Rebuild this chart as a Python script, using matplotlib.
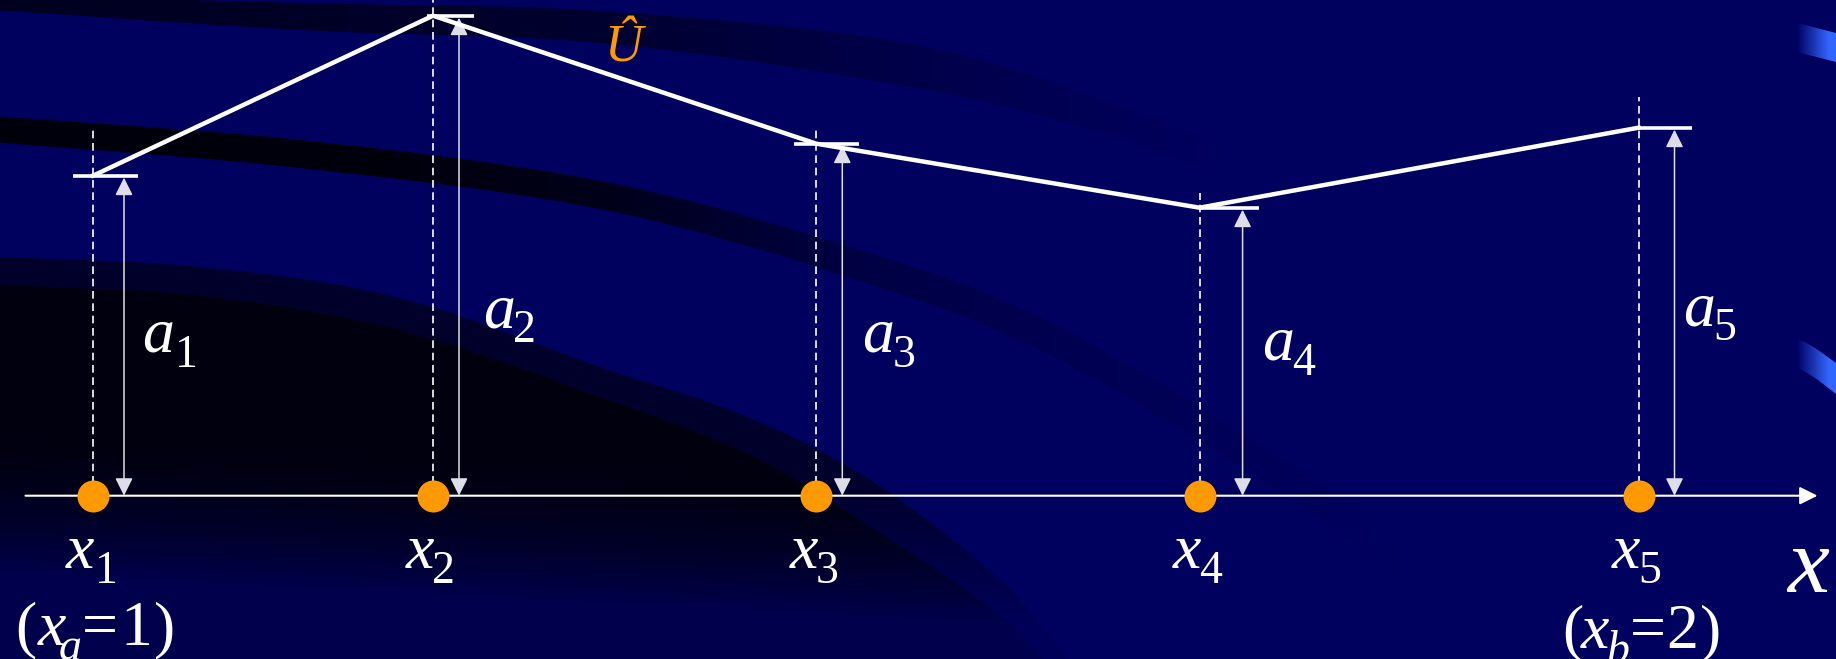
import numpy as np
import matplotlib
matplotlib.use("Agg")
import matplotlib.pyplot as plt
from matplotlib.patches import FancyArrowPatch
from matplotlib.transforms import IdentityTransform

# ---------------- data ----------------
x_a, x_b = 1, 2
node_x = [1.0, 1.22, 1.468, 1.716, 2.0]      # x_1 .. x_5
coef_a = [1.0, 1.5, 1.1, 0.9, 1.15]          # a_1 .. a_5 (height of U-hat at each node)
node_names = ["1", "2", "3", "4", "5"]
curve_name = "\u00db"                        # U with circumflex
axis_name = "x"

# ---------------- layout (pixels) ----------------
W, H, DPI = 1836, 659, 100
ORIGIN = (93.0, 495.7)        # pixel position of (x_a, 0)
PX_X = 1545.5                 # pixels per unit of x
PX_Y = 320.0                  # pixels per unit of U

NAVY = np.array([0.0, 0.0, 0.376])
ORANGE = "#ff9900"
ARROW_C = "#dedee8"
SERIF = "Liberation Serif"
MAIN, SUB = 46, 33

tick_left = [20, 6, 22, 0, 0]          # horizontal level marks around each node
tick_right = [45, 41, 43, 59, 53]
dash_over = [48, 20, 16, 15, 31]       # dashed guide overshoot above the level
arrow_dx = [31, 26, 26, 43, 36]        # double arrow offset from node
a_label_dx = [49, 50, 46, 63, 45]
a_label_base = [352, 327, 352, 360, 325]

fig = plt.figure(figsize=(W / DPI, H / DPI), dpi=DPI)
fig.patch.set_facecolor(NAVY)

# ---------------- background ----------------
def catmull(pts, n=60):
    p = np.asarray(pts, float)
    p = np.vstack([2 * p[0] - p[1], p, 2 * p[-1] - p[-2]])
    t = np.linspace(0, 1, n, endpoint=False)[:, None]
    segs = []
    for i in range(1, len(p) - 2):
        p0, p1, p2, p3 = p[i - 1], p[i], p[i + 1], p[i + 2]
        segs.append(0.5 * (2 * p1 + (-p0 + p2) * t + (2 * p0 - 5 * p1 + 4 * p2 - p3) * t ** 2
                           + (-p0 + 3 * p1 - 3 * p2 + p3) * t ** 3))
    segs.append(p[-2][None])
    return np.vstack(segs)

xs = np.arange(W) + 0.5
Y = (np.arange(H) + 0.5)[:, None]

def edge(pts):
    c = catmull(pts)
    return np.interp(xs, c[:, 0], c[:, 1])[None, :]

def below(e):
    return np.clip(Y - e + 0.5, 0, 1)

img = np.ones((H, W, 3)) * NAVY

def blend(alpha, color):
    global img
    a = alpha[..., None]
    img = img * (1 - a) + np.asarray(color)[None, None, :] * a

# upper thin band
upA = edge([(-20, -6), (300, 3), (600, 11), (900, 42), (1100, 98), (1300, 175)])
loA = edge([(-20, 9), (300, 30), (600, 43), (900, 85), (1100, 133), (1300, 205)])
fadeA = np.interp(xs, [0, 600, 900, 1250], [1.0, 0.75, 0.35, 0.0])[None, :]
blend(below(upA) * (1 - below(loA)) * fadeA, [0, 0, 0.12])

# middle band
upB = edge([(-20, 115), (300, 140), (600, 181), (850, 247), (1050, 322), (1300, 470), (1450, 580)])
loB = edge([(-20, 141), (300, 168), (600, 209), (850, 278), (1050, 355), (1300, 505), (1450, 620)])
fadeB = np.interp(xs, [0, 400, 600, 850, 1100, 1450], [1.0, 1.0, 0.85, 0.35, 0.15, 0.0])[None, :]
blend(below(upB) * (1 - below(loB)) * fadeB, [0, 0, 0.05])

# large dark sweep in the lower left
outC_pts = [(-20, 256), (200, 267), (400, 298), (600, 367), (750, 418), (875, 483),
            (1000, 580), (1068, 659), (1100, 705)]
inC_pts = [(-20, 284), (200, 296), (400, 330), (600, 397), (750, 455), (875, 530),
           (1000, 615), (1050, 670), (1080, 720)]
outC = edge(outC_pts)
inC = edge(inC_pts)
fade_y = Y - 0.05 * xs[None, :]
prof = np.interp(fade_y, [0, 440, 575], [1.0, 1.0, 0.15])
blend(below(outC) * prof, [0, 0, 0.17])
blend(below(inC) * prof, [0, 0, 0.06])

# bright streaks at the right edge
def streak(up_pts, lo_pts, x0):
    up = edge(up_pts)
    lo = edge(lo_pts)
    inside = below(up) * (1 - below(lo)) * np.clip(xs - x0, 0, 1)[None, :]
    t = np.clip((xs - x0) / 32.0, 0, 1)[None, :]
    blue = np.array([0.2, 0.4, 1.0])
    col = NAVY[None, None, :] * (1 - t[..., None]) + blue[None, None, :] * t[..., None]
    global img
    a = inside[..., None]
    img = img * (1 - a) + col * a

streak([(1797, 23), (1836, 33)], [(1797, 52), (1836, 62)], 1797)
streak([(1797, 338), (1815, 348), (1836, 363)], [(1797, 367), (1815, 378), (1836, 394)], 1797)

bg = fig.add_axes([0, 0, 1, 1])
bg.imshow(img, extent=(0, W, H, 0), interpolation="nearest", aspect="auto")
bg.set_xlim(0, W)
bg.set_ylim(H, 0)
bg.axis("off")

# ---------------- diagram ----------------
ax = fig.add_axes([0, 0, 1, 1])
ax.patch.set_alpha(0)
ax.axis("off")
ax.set_xlim(x_a - ORIGIN[0] / PX_X, x_a + (W - ORIGIN[0]) / PX_X)
ax.set_ylim(-(H - ORIGIN[1]) / PX_Y, ORIGIN[1] / PX_Y)

def dx(px):
    return px / PX_X

def dy(px):
    return px / PX_Y

HEAD = "head_length=10.8,head_width=5.4"

# x axis with arrow
ax.add_patch(FancyArrowPatch((x_a - dx(67.5), 0), (x_b + dx(179), 0),
                             arrowstyle="-|>," + HEAD, mutation_scale=1,
                             lw=1.5, color="white", shrinkA=0, shrinkB=0, zorder=3))

for i, (xv, av) in enumerate(zip(node_x, coef_a)):
    # dashed guide
    ax.plot([xv, xv], [0, av + dy(dash_over[i])], color="white", lw=1.2,
            linestyle=(0, (4.6, 2.8)), zorder=2)
    # level mark
    ax.plot([xv - dx(tick_left[i]), xv + dx(tick_right[i])], [av, av],
            color="white", lw=2.6, solid_capstyle="butt", zorder=4)
    # double arrow from axis to level
    xa = xv + dx(arrow_dx[i])
    ax.add_patch(FancyArrowPatch((xa, 0), (xa, av - dy(2)),
                                 arrowstyle="<|-|>," + HEAD, mutation_scale=1,
                                 lw=1.1, color=ARROW_C, shrinkA=0, shrinkB=0, zorder=4))

ax.plot(node_x, coef_a, color="white", lw=3.2, zorder=5, solid_joinstyle="miter")
ax.scatter(node_x, [0] * len(node_x), s=(32 * 72 / DPI) ** 2, color=ORANGE,
           linewidths=0, zorder=6)

# ---------------- labels ----------------
fig.canvas.draw()
renderer = fig.canvas.get_renderer()

def compose(left, base, pieces, color="white"):
    x = left
    for text, size, italic, drop, gap in pieces:
        x += gap
        t = fig.text(x, H - base - drop, text, transform=IdentityTransform(),
                     fontsize=size, family=SERIF, style="italic" if italic else "normal",
                     color=color, ha="left", va="baseline", zorder=10)
        x = t.get_window_extent(renderer).x1

def to_px(xv):
    return ORIGIN[0] + (xv - x_a) * PX_X

for i, (xv, name) in enumerate(zip(node_x, node_names)):
    g = 1 if name == "1" else -2
    compose(to_px(xv) - 27, 568, [("x", MAIN, True, 0, 0), (name, SUB, False, 15, g)])
    compose(to_px(xv) + a_label_dx[i], a_label_base[i],
            [("a", MAIN, True, 0, 0), (name, SUB, False, 15, g)])

compose(15, 645, [("(", MAIN, False, 0, 0), ("x", MAIN, True, 0, 2), ("a", SUB, True, 15, -8),
                  ("=", MAIN, False, 0, 0), (f"{x_a}", MAIN, False, 0, 3), (")", MAIN, False, 0, 1)])
compose(1562, 648, [("(", MAIN, False, 0, 0), ("x", MAIN, True, 0, -2), ("b", SUB, True, 15, -3),
                    ("=", MAIN, False, 0, 0), (f"{x_b}", MAIN, False, 0, 1), (")", MAIN, False, 0, 1)])
compose(1787, 592, [(axis_name, 68, True, 0, 0)])
compose(604, 62, [(curve_name, 38, True, 0, 0)], color=ORANGE)

fig.savefig("out.png", dpi=DPI, facecolor=fig.get_facecolor())
